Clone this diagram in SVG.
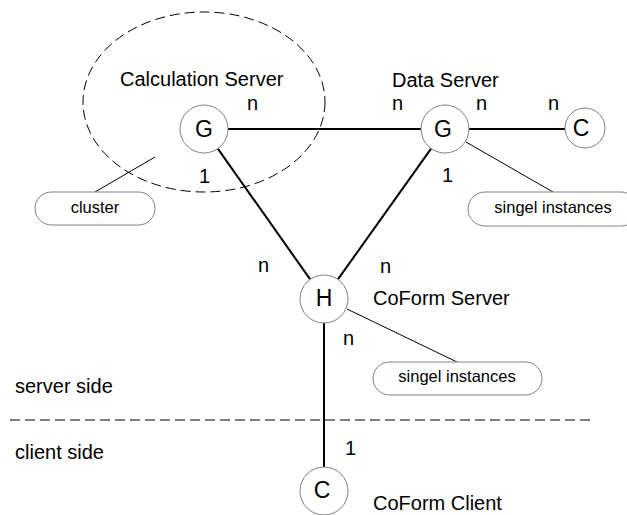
<svg xmlns="http://www.w3.org/2000/svg" width="627" height="515" viewBox="0 0 627 515">
<style>
text{font-family:"Liberation Sans",Arial,sans-serif;fill:#000}
.lbl{font-size:20px}
.ptx{font-size:16.5px;text-anchor:middle}
.nd{fill:#fff;stroke:#808080;stroke-width:1}
.nt{font-size:23px;text-anchor:middle}
.con{stroke:#000;stroke-width:2;fill:none}
.thin{stroke:#000;stroke-width:1;fill:none}
.pill{fill:#fff;stroke:#808080;stroke-width:1}
.dash{stroke:#000;stroke-width:1;fill:none;stroke-dasharray:10 5}
</style>
<rect width="627" height="515" fill="#fff"/>
<g id="cluster-area">
<ellipse cx="204" cy="102" rx="121" ry="90" class="dash"/>
</g>
<g id="divider">
<line x1="10" y1="420" x2="591" y2="420" class="dash" stroke-dasharray="9 5"/>
</g>
<g id="connectors">
<line x1="228" y1="129" x2="421" y2="129" class="con"/>
<line x1="469" y1="129" x2="565" y2="129" class="con"/>
<line x1="217.8" y1="148.6" x2="310.2" y2="279.4" class="con"/>
<line x1="431.1" y1="148.6" x2="337.9" y2="279.4" class="con"/>
<line x1="324" y1="323" x2="324" y2="467" class="con"/>
<line x1="95" y1="192" x2="155" y2="157" class="thin"/>
<line x1="466" y1="142" x2="553" y2="192" class="thin"/>
<line x1="347" y1="309" x2="457" y2="362" class="thin"/>
</g>
<g id="calc-g">
<circle cx="204" cy="129" r="24" class="nd"/>
<text x="204" y="137" class="nt">G</text>
</g>
<g id="data-g">
<circle cx="445" cy="129" r="24" class="nd"/>
<text x="443" y="137" class="nt">G</text>
</g>
<g id="data-c">
<circle cx="585" cy="128" r="20" class="nd"/>
<text x="581" y="136" class="nt">C</text>
</g>
<g id="coform-h">
<circle cx="324" cy="299" r="24" class="nd"/>
<text x="324" y="306" class="nt">H</text>
</g>
<g id="client-c">
<circle cx="324" cy="491" r="24" class="nd"/>
<text x="322" y="498" class="nt">C</text>
</g>
<g id="cluster-note">
<rect x="35" y="192" width="120" height="33" rx="16.5" class="pill"/>
<text x="95" y="213" class="ptx">cluster</text>
</g>
<g id="data-note">
<rect x="468" y="192" width="170" height="34" rx="17" class="pill"/>
<text x="553" y="213" class="ptx">singel instances</text>
</g>
<g id="h-note">
<rect x="373" y="362" width="169" height="33" rx="16.5" class="pill"/>
<text x="457" y="382" class="ptx">singel instances</text>
</g>
<g id="labels" class="lbl">
<text x="120" y="86" class="lbl">Calculation Server</text>
<text x="392" y="87" class="lbl">Data Server</text>
<text x="247" y="110" class="lbl">n</text>
<text x="392" y="110" class="lbl">n</text>
<text x="476" y="110" class="lbl">n</text>
<text x="548" y="110" class="lbl">n</text>
<text x="199" y="183" class="lbl">1</text>
<text x="442" y="182" class="lbl">1</text>
<text x="258" y="272" class="lbl">n</text>
<text x="380" y="273" class="lbl">n</text>
<text x="343" y="345" class="lbl">n</text>
<text x="373" y="305" class="lbl">CoForm Server</text>
<text x="15" y="393" class="lbl">server side</text>
<text x="15" y="459" class="lbl">client side</text>
<text x="345" y="455" class="lbl">1</text>
<text x="373" y="510" class="lbl">CoForm Client</text>
</g>
</svg>
